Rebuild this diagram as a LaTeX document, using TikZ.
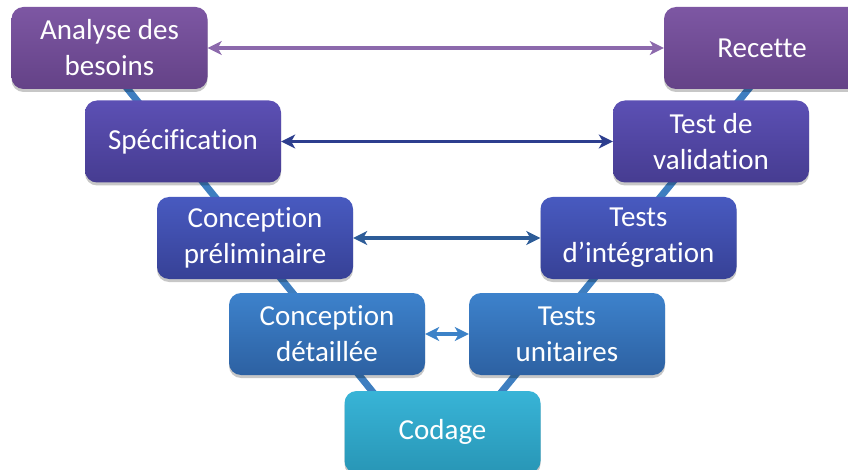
\documentclass[tikz,border=0pt]{standalone}
\usepackage{fontspec}
\setmainfont[Ligatures={NoCommon}]{Carlito}
\usetikzlibrary{shadows,arrows.meta,backgrounds}
\definecolor{rowAt}{RGB}{125,87,163}
\definecolor{rowAb}{RGB}{100,66,135}
\definecolor{rowBt}{RGB}{92,80,180}
\definecolor{rowBb}{RGB}{70,60,145}
\definecolor{rowCt}{RGB}{72,90,192}
\definecolor{rowCb}{RGB}{55,65,150}
\definecolor{rowDt}{RGB}{61,130,204}
\definecolor{rowDb}{RGB}{45,97,162}
\definecolor{codT}{RGB}{56,180,215}
\definecolor{codB}{RGB}{40,150,182}
\definecolor{arA}{RGB}{140,105,172}
\definecolor{arB}{RGB}{45,62,142}
\definecolor{arC}{RGB}{45,92,152}
\definecolor{arD}{RGB}{60,130,200}
\definecolor{vcol}{RGB}{62,126,192}
\tikzset{
  phase/.style={rounded corners=12pt, minimum width=196pt, minimum height=82pt,
    inner sep=0pt, align=center, text=white,
    font=\fontsize{29}{36}\selectfont,
    drop shadow={shadow xshift=0pt, shadow yshift=-3pt, opacity=0.22, fill=black}},
  rowA/.style={phase, top color=rowAt, bottom color=rowAb},
  rowB/.style={phase, top color=rowBt, bottom color=rowBb},
  rowC/.style={phase, top color=rowCt, bottom color=rowCb},
  rowD/.style={phase, top color=rowDt, bottom color=rowDb},
  rowE/.style={phase, top color=codT, bottom color=codB},
  vline/.style={line width=7pt, draw=vcol},
  link/.style={{Stealth[length=14pt,width=14pt,inset=4pt]}-{Stealth[length=14pt,width=14pt,inset=4pt]}, line width=3.5pt}
}
\begin{document}
\begin{tikzpicture}[x=1pt,y=-1pt]
\useasboundingbox (0,0) rectangle (848,470);
\clip (0,0) rectangle (848,470);
\node[rowA] (an) at (109.5,48) {Analyse des\\besoins};
\node[rowA] (rec) at (762,48) {Recette};
\node[rowB] (spec) at (183,141.5) {Spécification};
\node[rowB] (val) at (711,141.5) {Test de\\validation};
\node[rowC] (cp) at (255,238) {Conception\\préliminaire};
\node[rowC] (ti) at (638.5,238) {Tests\\d’intégration};
\node[rowD] (cd) at (327,334) {Conception\\détaillée};
\node[rowD] (tu) at (567,334) {Tests\\unitaires};
\node[rowE] (cod) at (442.5,432) {Codage};
\begin{scope}[on background layer]
\draw[vline] ([xshift=-15pt]an.center) -- ([xshift=-39pt,yshift=2pt]cod.center);
\draw[vline] ([xshift=20pt]rec.center) -- ([xshift=28pt,yshift=2pt]cod.center);
\end{scope}
\draw[link, draw=arA] (an.east) -- (rec.west);
\draw[link, draw=arB] (spec.east) -- (val.west);
\draw[link, draw=arC] (cp.east) -- (ti.west);
\draw[link, draw=arD] (cd.east) -- (tu.west);
\end{tikzpicture}
\end{document}
